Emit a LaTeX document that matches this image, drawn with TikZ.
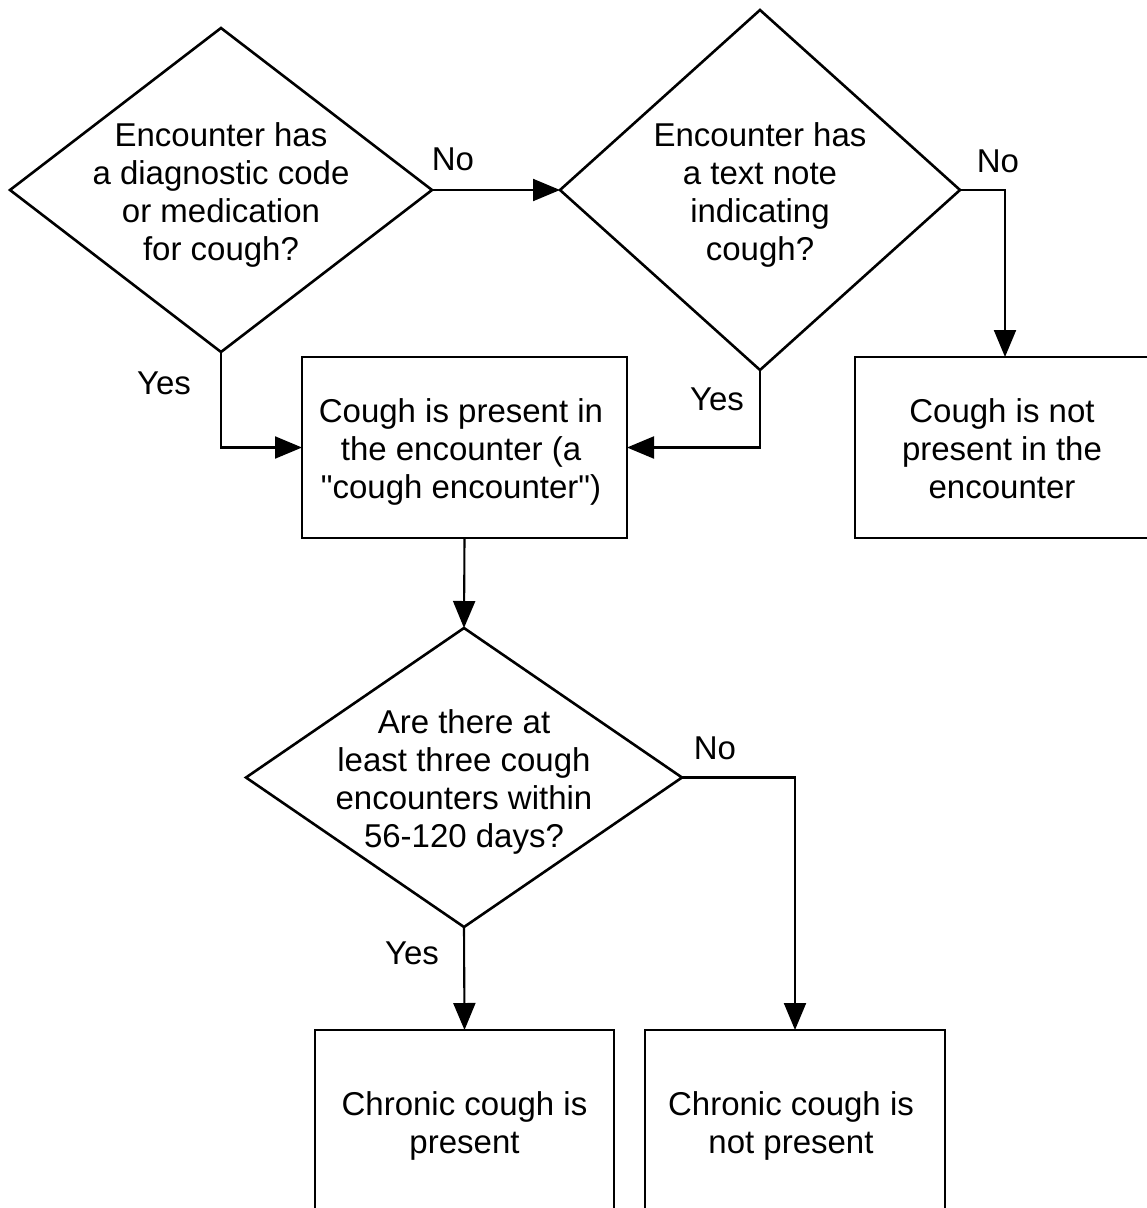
\documentclass[tikz,border=0pt]{standalone}
\usepackage{fontspec}
\setmainfont{Liberation Sans}[Ligatures=TeXOff]
\usetikzlibrary{shapes.geometric,arrows.meta}
\begin{document}
\begin{tikzpicture}[x=1pt,y=-1pt,
  every node/.style={font=\fontsize{33}{38}\selectfont, inner sep=0pt, outer sep=0pt},
  dia/.style={diamond, draw, line width=2.6pt, aspect=1},
  txt/.style={align=center},
  box/.style={rectangle, draw, line width=2.8pt},
  arr/.style={line width=2.1pt, -{Triangle[length=27pt,width=22pt]}},
  lbl/.style={}]
\path[use as bounding box] (0,0) rectangle (1147,1208);
\clip (0,0) rectangle (1147,1208);
\fill[white] (0,0) rectangle (1147,1208);

% decisions
\node[dia, minimum width=422pt, minimum height=324pt] (d1) at (221,190) {};
\node[txt] (t1) at (221,194.5) {Encounter has\\a diagnostic code\\or medication\\for cough?};
\node[dia, minimum width=400pt, minimum height=360pt] (d2) at (760,190) {};
\node[txt] (t2) at (760,194.5) {Encounter has\\a text note\\indicating\\cough?};
\node[dia, minimum width=436pt, minimum height=299pt] (d3) at (464,777.5) {};
\node[txt] (t3) at (464,781.5) {Are there at\\least three cough\\encounters within\\56-120 days?};

% boxes
\node[box, minimum width=325pt, minimum height=181pt] (b1) at (464.5,447.5) {};
\node[txt] (t4) at (461,451.5) {Cough is present in\\the encounter (a\\"cough encounter")};
\node[box, minimum width=300pt, minimum height=181pt] (b2) at (1005,447.5) {};
\node[txt] (t5) at (1002,449) {Cough is not\\present in the\\encounter};
\node[box, minimum width=299pt, minimum height=185pt] (b3) at (464.5,1122.5) {};
\node[txt] (t6) at (464.5,1125.5) {Chronic cough is\\present};
\node[box, minimum width=300pt, minimum height=185pt] (b4) at (795,1122.5) {};
\node[txt] (t7) at (791,1125.5) {Chronic cough is\\not present};

% connectors
\draw[arr] (d1.east) -- (d2.west);
\draw[arr] (d2.east) -| (b2.north);
\draw[arr] (d1.south) |- (b1.west);
\draw[arr] (d2.south) |- (b1.east);
\draw[arr] (b1.south) -- (d3.north);
\draw[arr] (d3.south) -- (b3.north);
\draw[arr] (d3.east) -| (b4.north);

% labels
\node[lbl] (n1) at (453,159) {No};
\node[lbl] (n2) at (998,161) {No};
\node[lbl] (y1) at (164,383) {Yes};
\node[lbl] (y2) at (717,399) {Yes};
\node[lbl] (n3) at (715,748) {No};
\node[lbl] (y3) at (412,953) {Yes};
\end{tikzpicture}
\end{document}
